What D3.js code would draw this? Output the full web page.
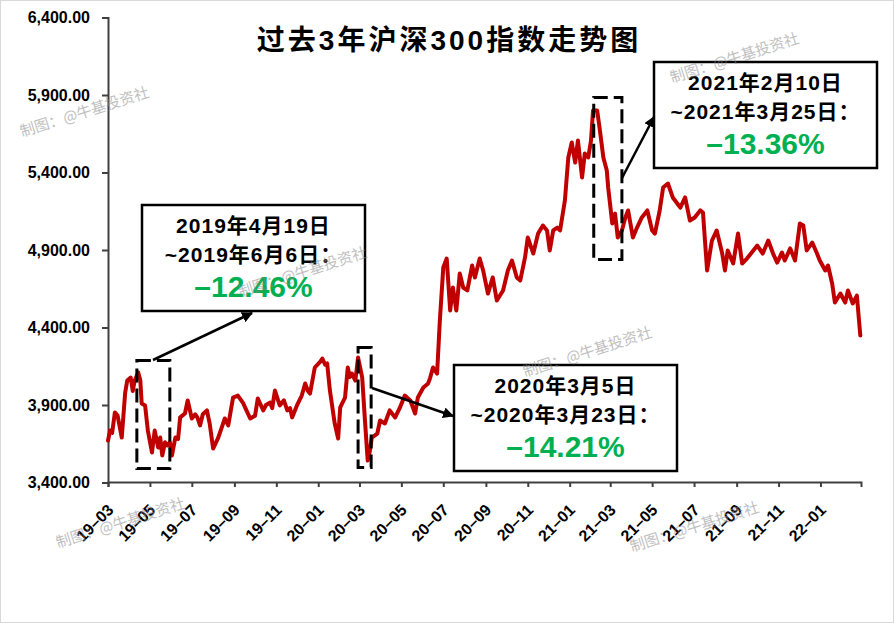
<!DOCTYPE html>
<html>
<head>
<meta charset="utf-8">
<script src="https://cdn.jsdelivr.net/npm/d3@7"></script>
<style>
	body { margin: 0; background: #fff; }
	svg { display: block; font-family: "Liberation Sans", Arial, "Noto Sans CJK SC", sans-serif; }
</style>
</head>
<body>
<script>
// CSI 300 closes
var tradeDates = [
	"2019-03-01","2019-03-04","2019-03-07","2019-03-11","2019-03-15","2019-03-18","2019-03-21","2019-03-26","2019-03-29",
	"2019-04-03","2019-04-06","2019-04-09","2019-04-14","2019-04-17","2019-04-19","2019-04-24","2019-04-28",
	"2019-05-04","2019-05-08","2019-05-13","2019-05-16","2019-05-19","2019-05-23","2019-05-26","2019-05-30",
	"2019-06-02","2019-06-07","2019-06-11","2019-06-14","2019-06-21","2019-06-25",
	"2019-07-01","2019-07-06","2019-07-09","2019-07-13","2019-07-17","2019-07-23","2019-07-27",
	"2019-08-01","2019-08-08","2019-08-14","2019-08-18","2019-08-23","2019-08-30",
	"2019-09-06","2019-09-14","2019-09-18","2019-09-24",
	"2019-10-01","2019-10-05","2019-10-13","2019-10-17","2019-10-23","2019-10-26","2019-10-30",
	"2019-11-06","2019-11-12","2019-11-17","2019-11-21","2019-11-24",
	"2019-12-01","2019-12-08","2019-12-13","2019-12-17","2019-12-20","2019-12-27",
	"2020-01-04","2020-01-07","2020-01-11","2020-01-14","2020-01-18","2020-01-25","2020-01-30",
	"2020-02-02","2020-02-09","2020-02-13","2020-02-16","2020-02-19","2020-02-24","2020-02-28",
	"2020-03-05","2020-03-09","2020-03-13","2020-03-16","2020-03-19","2020-03-27","2020-03-31",
	"2020-04-07","2020-04-14","2020-04-22","2020-04-29",
	"2020-05-06","2020-05-14","2020-05-21","2020-05-25",
	"2020-06-02","2020-06-09","2020-06-12","2020-06-16","2020-06-22","2020-06-26",
	"2020-07-01","2020-07-06","2020-07-11","2020-07-15","2020-07-20","2020-07-25","2020-07-30",
	"2020-08-05","2020-08-12","2020-08-16","2020-08-23","2020-08-28",
	"2020-09-04","2020-09-11","2020-09-17","2020-09-26",
	"2020-10-03","2020-10-09","2020-10-16","2020-10-21","2020-10-28",
	"2020-11-01","2020-11-09","2020-11-16","2020-11-23","2020-11-29",
	"2020-12-03","2020-12-08","2020-12-14","2020-12-18","2020-12-25","2020-12-30",
	"2021-01-04","2021-01-09","2021-01-13","2021-01-19","2021-01-23","2021-01-28",
	"2021-02-01","2021-02-04","2021-02-10","2021-02-14","2021-02-19","2021-02-24","2021-02-26",
	"2021-03-04","2021-03-08","2021-03-12","2021-03-18","2021-03-23","2021-03-27",
	"2021-04-03","2021-04-09","2021-04-16","2021-04-24",
	"2021-05-01","2021-05-05","2021-05-12","2021-05-17","2021-05-24","2021-05-31",
	"2021-06-11","2021-06-18","2021-06-25",
	"2021-07-02","2021-07-10","2021-07-14","2021-07-20","2021-07-27",
	"2021-08-03","2021-08-11","2021-08-15","2021-08-19","2021-08-27",
	"2021-09-03","2021-09-09","2021-09-16","2021-09-23",
	"2021-10-01","2021-10-09","2021-10-17","2021-10-24","2021-10-30",
	"2021-11-06","2021-11-10","2021-11-18","2021-11-25",
	"2021-12-02","2021-12-07","2021-12-12","2021-12-20","2021-12-27","2021-12-31",
	"2022-01-08","2022-01-12","2022-01-18","2022-01-22","2022-01-30",
	"2022-02-06","2022-02-10","2022-02-17","2022-02-23","2022-02-28"
];
var closeValues = [
	3671,3735,3720,3852,3832,3760,3690,3980,4058,
	4077,3990,4060,4110,4060,3910,3897,3735,
	3594,3735,3626,3690,3574,3660,3639,3660,
	3574,3690,3680,3820,3845,3929,
	3813,3840,3820,3768,3840,3865,3780,
	3619,3684,3760,3813,3768,3948,
	3961,3910,3870,3813,
	3830,3942,3865,3900,3916,3880,3993,
	3897,3930,3865,3880,3820,
	3897,3961,4039,3990,3974,4142,
	4180,4200,4160,4168,3993,3781,3684,
	3884,3948,4142,4080,4103,4058,4206,
	4077,3800,3542,3600,3690,3716,3800,
	3781,3865,3820,3884,
	3961,3929,3845,3948,
	4013,4039,4077,4142,4103,4445,
	4787,4845,4510,4658,4510,4748,4658,
	4639,4800,4723,4845,4768,
	4619,4723,4574,4639,
	4768,4832,4723,4703,4852,
	4981,4877,5006,5058,5026,
	4897,5026,5045,5026,5219,5497,
	5594,5464,5606,5368,5523,5497,
	5606,5800,5800,5671,5497,5413,5303,
	5071,5135,4981,5026,5110,5155,
	4981,5045,5110,5155,
	5026,5006,5155,5303,5329,5239,
	5174,5239,5090,
	5110,5155,5142,4768,4961,
	5026,4877,4768,4897,4813,
	5006,4813,4845,4884,
	4929,4877,4961,4877,4819,
	4884,4832,4910,4832,
	5071,5058,4897,4948,4877,4832,
	4768,4800,4684,4561,4619,
	4561,4639,4555,4606,4348
];

var chartTitle = "过去3年沪深300指数走势图";
var yTicks = [3400, 3900, 4400, 4900, 5400, 5900, 6400];
var axisStart = "2019-03-01";
var axisEnd = "2022-03-01";

// drawdown windows
var rangeFrom = ["2019-04-12", "2020-02-28", "2021-02-05"];
var rangeTo = ["2019-05-30", "2020-03-18", "2021-03-18"];
var rangeHigh = [4187, 4271, 5884];
var rangeLow = [3490, 3497, 4839];
var calloutLine1 = ["2019年4月19日", "2020年3月5日", "2021年2月10日"];
var calloutLine2 = ["~2019年6月6日：", "~2020年3月23日：", "~2021年3月25日："];
var drawdowns = [-12.46, -14.21, -13.36];

var watermarkText = "制图：@牛基投资社";

var W = 894, H = 623;
var svg = d3.select("body").append("svg").attr("width", W).attr("height", H);

svg.append("rect").attr("x", 0.5).attr("y", 0.5).attr("width", W - 1).attr("height", H - 1)
	.attr("fill", "#fff").attr("stroke", "#d9d9d9");

var parse = d3.timeParse("%Y-%m-%d");
var series = tradeDates.map(function(d, i) { return {date: parse(d), value: closeValues[i]}; });

var x = d3.scaleTime().domain([parse(axisStart), parse(axisEnd)]).range([108, 861]);
var y = d3.scaleLinear().domain([3400, 6400]).range([482.5, 17.5]);

// Title
svg.append("text").attr("x", 449).attr("y", 50).attr("text-anchor", "middle")
	.style("font-size", "28px").style("font-weight", "bold").style("letter-spacing", "3px")
	.text(chartTitle);

// Y axis
var yAxis = d3.axisLeft(y).tickValues(yTicks).tickFormat(d3.format(",.2f")).tickSize(6).tickPadding(12);
var gy = svg.append("g").attr("transform", "translate(108,0)").call(yAxis);
gy.select(".domain").attr("stroke", "#404040").attr("stroke-width", 2);
gy.selectAll(".tick line").attr("stroke", "#404040").attr("stroke-width", 2);
gy.selectAll(".tick text").attr("fill", "#000").style("font-size", "16px").style("font-weight", "bold")
	.style("font-family", "\"Liberation Sans\", Arial, sans-serif");

// X axis
var xTickDates = d3.timeMonth.every(2).range(parse(axisStart), parse(axisEnd));
var xAxis = d3.axisBottom(x).tickValues(xTickDates).tickFormat(d3.timeFormat("%y–%m")).tickSize(5).tickSizeOuter(5);
var gx = svg.append("g").attr("transform", "translate(0,482)").call(xAxis);
gx.select(".domain").attr("stroke", "#404040").attr("stroke-width", 2);
gx.selectAll(".tick line").attr("stroke", "#404040").attr("stroke-width", 2);
gx.selectAll(".tick text").attr("fill", "#000").attr("text-anchor", "end")
	.attr("x", 0).attr("y", 0).attr("dy", "0.35em").attr("transform", "translate(2,25) rotate(-45)")
	.style("font-size", "16px").style("font-weight", "bold")
	.style("font-family", "\"Liberation Sans\", Arial, sans-serif");

// Index line
var line = d3.line().x(function(d) { return x(d.date); }).y(function(d) { return y(d.value); });
svg.append("path").datum(series).attr("d", line)
	.attr("fill", "none").attr("stroke", "#c00000").attr("stroke-width", 4)
	.attr("stroke-linejoin", "round").attr("stroke-linecap", "round");

// Dashed windows
rangeFrom.forEach(function(f, i) {
	var x0 = x(parse(f)), x1 = x(parse(rangeTo[i]));
	svg.append("rect").attr("x", x0).attr("y", y(rangeHigh[i]))
		.attr("width", x1 - x0).attr("height", y(rangeLow[i]) - y(rangeHigh[i]))
		.attr("fill", "none").attr("stroke", "#000").attr("stroke-width", 3).attr("stroke-dasharray", "14,6");
});

// Arrows
svg.append("defs").append("marker").attr("id", "arrowHead")
	.attr("viewBox", "0 0 10 10").attr("refX", 9).attr("refY", 5)
	.attr("markerWidth", 11).attr("markerHeight", 11).attr("markerUnits", "userSpaceOnUse")
	.attr("orient", "auto")
	.append("path").attr("d", "M0,0 L10,5 L0,10 z").attr("fill", "#000");

var arrows = [[153, 360, 252, 313], [372, 388, 453, 416], [622, 178, 654, 117]];
arrows.forEach(function(a) {
	svg.append("line").attr("x1", a[0]).attr("y1", a[1]).attr("x2", a[2]).attr("y2", a[3])
		.attr("stroke", "#000").attr("stroke-width", 2.5).attr("marker-end", "url(#arrowHead)");
});

// Callout boxes
var boxes = [[142, 205], [454, 365], [654, 62]];
var boxW = 223, boxH = 106;
boxes.forEach(function(b, i) {
	var g = svg.append("g").attr("transform", "translate(" + b[0] + "," + b[1] + ")");
	g.append("rect").attr("width", boxW).attr("height", boxH).attr("fill", "#fff")
		.attr("stroke", "#000").attr("stroke-width", 2.5);
	g.append("text").attr("x", boxW / 2).attr("y", 28).attr("text-anchor", "middle")
		.style("font-size", "21px").style("font-weight", "bold").style("letter-spacing", "1px")
		.text(calloutLine1[i]);
	g.append("text").attr("x", boxW / 2).attr("y", 57).attr("text-anchor", "middle")
		.style("font-size", "21px").style("font-weight", "bold").style("letter-spacing", "1px")
		.text(calloutLine2[i]);
	g.append("text").attr("x", boxW / 2).attr("y", 92).attr("text-anchor", "middle")
		.attr("fill", "#00b050").style("font-size", "30px").style("font-weight", "bold")
		.text("–" + Math.abs(drawdowns[i]).toFixed(2) + "%");
});

// Watermarks
var watermarkSpots = [[22, 137], [240, 297], [525, 377], [58, 548], [632, 552], [672, 83]];
watermarkSpots.forEach(function(p) {
	svg.append("text").attr("transform", "translate(" + p[0] + "," + p[1] + ") rotate(-17.5)")
		.attr("fill", "#8c8c8c").attr("opacity", 0.55)
		.style("font-size", "15px").style("font-family", "\"Noto Sans CJK SC\", sans-serif")
		.text(watermarkText);
});
</script>
</body>
</html>
